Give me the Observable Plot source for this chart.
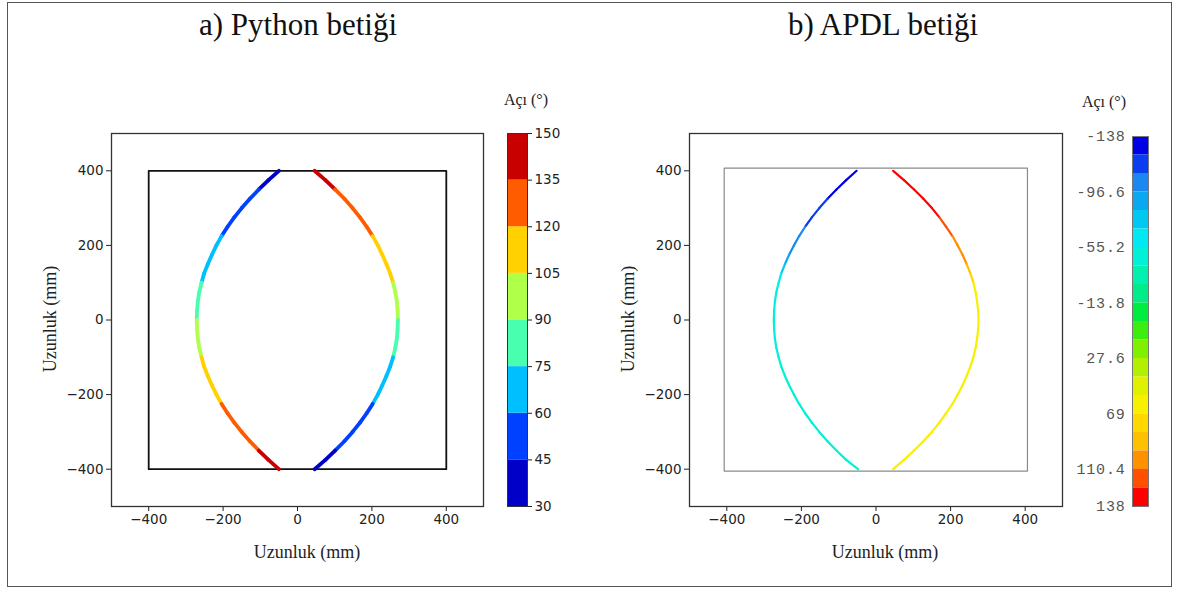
<!DOCTYPE html>
<html><head><meta charset="utf-8">
<script src="https://cdn.jsdelivr.net/npm/d3@7"></script>
<script src="https://cdn.jsdelivr.net/npm/@observablehq/plot@0.6"></script>
<style>
body{margin:0;background:#fff;}
#root{position:relative;width:1179px;height:590px;overflow:hidden;background:#fff;}
.abs{position:absolute;}
.title{font-family:"Liberation Serif",serif;font-size:31px;line-height:31px;color:#111;white-space:nowrap;transform:translateX(-50%);}
.lab{font-family:"Liberation Serif",serif;font-size:18px;line-height:18px;color:#222;white-space:nowrap;}
.cbt{font-family:"Liberation Serif",serif;font-size:16px;line-height:16px;color:#222;white-space:nowrap;transform:translateX(-50%);}
#border{left:7px;top:2px;width:1163px;height:583px;border:1.5px solid #555;}
</style></head><body><div id="root"><div id="border" class="abs"></div></div>
<script>
// ---- data ----
const titles = ["a) Python betiği", "b) APDL betiği"];
const axisLabel = "Uzunluk (mm)";
const legendTitle = "Açı (°)";
const axisTicks = [-400, -200, 0, 200, 400];

// fibre path sample heights (mm)
const fiberY = [400,375,350,325,300,275,250,225,200,175,150,125,100,75,50,25,0,-25,-50,-75,-100,-125,-150,-175,-200,-225,-250,-275,-300,-325,-350,-375,-400];
// Python panel fibre x positions
const pyLeftX  = [-50,-78,-104,-128,-150,-170,-188,-204,-218,-230,-241,-251,-258,-264,-268,-270,-271,-270,-268,-264,-258,-251,-241,-230,-218,-204,-188,-170,-150,-128,-104,-78,-50];
const pyRightX = [46,75,101,126,148,168,186,202,216,228,239,249,257,263,267,269,270,269,267,263,257,249,239,228,216,202,186,168,148,126,101,75,46];
// Python panel fibre angles (deg)
const pyLeftAngle  = [40,42.5,45,47.5,50,53,56,59,62,65,68,71.5,75,79,83,86.5,90,93.5,97,101,105,108.5,112,115,118,121,124,127,130,132.5,135,137.5,140];
const pyRightAngle = [140,137.5,135,132.5,130,127,124,121,118,115,112,108.5,105,101,97,93.5,90,86.5,83,79,75,71.5,68,65,62,59,56,53,50,47.5,45,42.5,40];
// APDL panel fibre x positions
const apdlLeftX  = [-52,-80,-106,-130,-152,-172,-190,-206,-220,-233,-244,-254,-261,-267,-271,-273,-274,-273,-271,-267,-261,-254,-244,-233,-220,-206,-190,-172,-152,-130,-106,-80,-48];
const apdlRightX = [46,75,102,127,150,170,188,205,219,232,243,253,261,267,271,274,275,274,271,267,261,253,243,232,219,205,188,170,150,127,102,75,46];
// APDL panel fibre angles (deg)
const apdlLeftAngle  = [-130,-128,-126,-125,-122,-119,-108,-104,-100,-98,-94,-70,-50,-48,-48,-48,-48,-48,-48,-48,-48,-48,-48,-48,-48,-48,-48,-48,-48,-48,-48,-48,-48];
const apdlRightAngle = [132,131,130,129,128,127,116,112,106,100,96,80,64,62,62,62,62,62,62,62,62,62,62,62,62,62,62,62,62,62,62,62,62];

// plate outlines
const pyPlateX = [-400, 400, 400, -400, -400];
const pyPlateY = [400, 400, -400, -400, 400];
const apdlPlateX = [-407, 406, 406, -407, -407];
const apdlPlateY = [407, 407, -405, -405, 407];

// colour bars
const pyEdges = [30,45,60,75,90,105,120,135,150];
const pyColors = ["#0000c8","#0040ff","#00bfff","#48ffb0","#b0ff48","#ffd100","#ff5c00","#c80000"];
const pyTicks = [30,45,60,75,90,105,120,135,150];
const apdlEdges = [-138,-124.2,-110.4,-96.6,-82.8,-69,-55.2,-41.4,-27.6,-13.8,0,13.8,27.6,41.4,55.2,69,82.8,96.6,110.4,124.2,138];
const apdlColors = ["#0000e8","#0a3cf0","#1a88f0","#0aa8f0","#00c8f0","#00e8f0","#00f0d8","#00f0b0","#00ec88","#00ec40",
                    "#3cee10","#80f000","#b0f000","#e0f000","#f8f000","#ffd800","#ffc000","#ff9000","#ff5000","#ff0000"];
const apdlTicks = [-138,-96.6,-55.2,-13.8,27.6,69,110.4,138];
const apdlTickLabels = ["-138","-96.6","-55.2","-13.8","27.6","69","110.4","138"];

// ---- helpers ----
const root = document.getElementById("root");
function place(el, left, top, w, h) {
  const d = document.createElement("div");
  d.className = "abs";
  d.style.left = left + "px"; d.style.top = top + "px";
  if (w) d.style.width = w + "px";
  if (h) d.style.height = h + "px";
  d.appendChild(el); root.appendChild(d); return d;
}
function text(cls, str, left, top, extra) {
  const d = document.createElement("div");
  d.className = "abs " + cls; d.textContent = str;
  d.style.left = left + "px"; d.style.top = top + "px";
  if (extra) d.style.transform = extra;
  root.appendChild(d);
}
function segs(xs, ys, as) {
  return d3.range(xs.length - 1).map(i => ({x1: xs[i], y1: ys[i], x2: xs[i+1], y2: ys[i+1], a: (as[i] + as[i+1]) / 2}));
}
function pts(xs, ys) { return xs.map((x, i) => ({x, y: ys[i]})); }

function panel(opts) {
  return Plot.plot({
    width: opts.width, height: 460,
    marginLeft: opts.ml, marginRight: opts.mr, marginTop: 23, marginBottom: 64,
    x: {domain: [-500, 500], ticks: axisTicks, tickSize: 5, tickPadding: 3, label: null},
    y: {domain: [-500, 500], ticks: axisTicks, tickSize: 5, tickPadding: 3, label: null},
    color: {type: "threshold", domain: opts.edges.slice(1, -1), range: opts.colors},
    style: {fontFamily: "DejaVu Sans", fontSize: "13.5px", color: "#222", background: "transparent", overflow: "visible"},
    marks: [
      Plot.frame({stroke: "#333", strokeWidth: 1.3}),
      Plot.line(pts(opts.plateX, opts.plateY), {x: "x", y: "y", stroke: opts.plateStroke, strokeWidth: opts.plateWidth}),
      Plot.link(segs(opts.lx, fiberY, opts.la), {x1: "x1", y1: "y1", x2: "x2", y2: "y2", stroke: "a", strokeWidth: opts.fw, strokeLinecap: "round"}),
      Plot.link(segs(opts.rx, fiberY, opts.ra), {x1: "x1", y1: "y1", x2: "x2", y2: "y2", stroke: "a", strokeWidth: opts.fw, strokeLinecap: "round"})
    ]
  });
}

// ---- Python panel ----
place(panel({width: 460, ml: 71, mr: 17, edges: pyEdges, colors: pyColors,
  plateX: pyPlateX, plateY: pyPlateY, plateStroke: "#111", plateWidth: 1.8,
  lx: pyLeftX, la: pyLeftAngle, rx: pyRightX, ra: pyRightAngle, fw: 3.8}), 40, 110, 460, 460);

// ---- APDL panel ----
place(panel({width: 470, ml: 79, mr: 18, edges: apdlEdges, colors: apdlColors,
  plateX: apdlPlateX, plateY: apdlPlateY, plateStroke: "#8a8a8a", plateWidth: 1.2,
  lx: apdlLeftX, la: apdlLeftAngle, rx: apdlRightX, ra: apdlRightAngle, fw: 2.2}), 610, 110, 470, 460);

// ---- Python colour bar ----
const pyBands = d3.range(pyEdges.length - 1).map(i => ({lo: pyEdges[i], hi: pyEdges[i+1], m: (pyEdges[i] + pyEdges[i+1]) / 2}));
place(Plot.plot({
  width: 60, height: 393, marginLeft: 0, marginRight: 40, marginTop: 10, marginBottom: 10,
  x: {domain: [0, 1], axis: null},
  y: {domain: [pyEdges[0], pyEdges[pyEdges.length - 1]], ticks: pyTicks, axis: "right", tickSize: 4, tickPadding: 3, label: null},
  color: {type: "threshold", domain: pyEdges.slice(1, -1), range: pyColors},
  style: {fontFamily: "DejaVu Sans", fontSize: "13.5px", color: "#222", background: "transparent", overflow: "visible"},
  marks: [
    Plot.rect(pyBands, {x1: 0, x2: 1, y1: "lo", y2: "hi", fill: "m"}),
    Plot.frame({stroke: "#333", strokeWidth: 1})
  ]
}), 507, 123, 60, 393);

// ---- APDL colour bar ----
const apdlBands = d3.range(apdlEdges.length - 1).map(i => ({lo: apdlEdges[i], hi: apdlEdges[i+1], m: (apdlEdges[i] + apdlEdges[i+1]) / 2}));
place(Plot.plot({
  width: 100, height: 400, marginLeft: 72, marginRight: 12, marginTop: 20, marginBottom: 10,
  x: {domain: [0, 1], axis: null},
  y: {domain: [apdlEdges[0], apdlEdges[apdlEdges.length - 1]], reverse: true, ticks: apdlTicks,
      tickFormat: d => apdlTickLabels[apdlTicks.indexOf(d)], axis: "left", tickSize: 0, tickPadding: 7, label: null},
  color: {type: "threshold", domain: apdlEdges.slice(1, -1), range: apdlColors},
  style: {fontFamily: "Liberation Mono", fontSize: "15px", letterSpacing: "0.8px", color: "#555", background: "transparent", overflow: "visible"},
  marks: [
    Plot.rect(apdlBands, {x1: 0, x2: 1, y1: "lo", y2: "hi", fill: "m"}),
    Plot.frame({stroke: "#777", strokeWidth: 1})
  ]
}), 1060, 116, 100, 400);

// ---- texts ----
text("title", titles[0], 298, 9);
text("title", titles[1], 883, 9);
text("cbt", legendTitle, 526, 92);
text("cbt", legendTitle, 1104, 94);
text("lab", axisLabel, 307, 543, "translateX(-50%)");
text("lab", axisLabel, 885, 543, "translateX(-50%)");
text("lab", axisLabel, 50, 310, "translateX(-50%) rotate(-90deg)");
text("lab", axisLabel, 628, 310, "translateX(-50%) rotate(-90deg)");
</script>
</body></html>
